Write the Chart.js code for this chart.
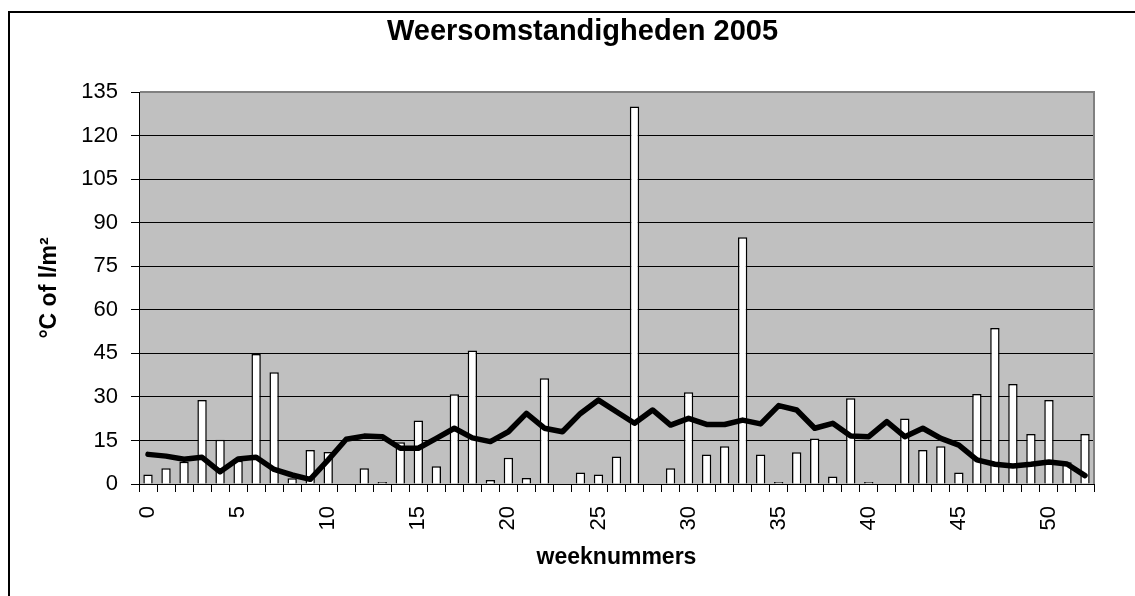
<!DOCTYPE html>
<html><head><meta charset="utf-8">
<script src="https://cdn.jsdelivr.net/npm/chart.js@4"></script>
<style>
html,body{margin:0;padding:0;background:#fff;overflow:hidden;width:1135px;height:596px;}
#frame{position:absolute;left:8px;top:11px;width:1300px;height:700px;border-left:2px solid #000;border-top:2px solid #000;}
#c{position:absolute;left:10px;top:13px;}
</style></head><body>
<div id="frame"></div>
<canvas id="c" width="1145" height="583"></canvas>
<script>
const weeks = ['0','1','2','3','4','5','6','7','8','9','10','11','12','13','14','15','16','17','18','19','20','21','22','23','24','25','26','27','28','29','30','31','32','33','34','35','36','37','38','39','40','41','42','43','44','45','46','47','48','49','50','51','52'];
const rain = [3.3,5.4,7.7,28.9,15.2,8,44.8,38.5,2,11.7,11,0,5.4,0.7,14.4,21.9,6.1,30.9,46,1.4,9,2.1,36.4,0,4,3.3,9.5,130,0,5.4,31.6,10.2,13,85,10.2,0.7,10.9,15.7,2.6,29.5,0.7,0,22.6,11.7,13,4,31,53.7,34.4,17.2,28.9,7.5,17.2];
const temp = [10.2,9.6,8.5,9.2,4.2,8.6,9.2,5.0,3.1,1.6,8.3,15.4,16.5,16.3,12.3,12.3,15.7,19.2,15.9,14.6,18.0,24.3,19.2,18.0,24.3,28.9,24.9,20.9,25.5,20.3,22.6,20.5,20.5,22.0,20.7,27.0,25.5,19.2,20.9,16.5,16.3,21.5,16.3,19.2,15.7,13.4,8.3,6.8,6.2,6.8,7.6,6.9,2.9];
const yMin = 0, yMax = 135, yStep = 15;
const titleText = 'Weersomstandigheden 2005';
const yTitle = '°C of l/m²';
const xTitle = 'weeknummers';

const FONT = '"Liberation Sans", Arial, sans-serif';

const plotBg = {
  id: 'plotBg',
  beforeDraw(chart) {
    const {ctx, chartArea: a} = chart;
    ctx.save();
    ctx.fillStyle = '#C0C0C0';
    ctx.fillRect(a.left, a.top, a.width, a.height);
    ctx.restore();
  },
  beforeDatasetsDraw(chart) {
    const {ctx, chartArea: a} = chart;
    ctx.save();
    ctx.strokeStyle = '#808080';
    ctx.lineWidth = 2;
    ctx.beginPath();
    ctx.moveTo(a.left + 1, a.top);
    ctx.lineTo(a.right, a.top);
    ctx.lineTo(a.right, a.bottom);
    ctx.stroke();
    ctx.restore();
  }
};

new Chart(document.getElementById('c'), {
  type: 'bar',
  data: {
    labels: weeks,
    datasets: [
      {
        type: 'line',
        label: 'temperatuur',
        data: temp,
        borderColor: '#000',
        borderWidth: 5.5,
        pointRadius: 0,
        tension: 0,
        borderJoinStyle: 'round',
        borderCapStyle: 'round',
        fill: false,
        order: 0
      },
      {
        type: 'bar',
        label: 'neerslag',
        data: rain,
        backgroundColor: '#fff',
        borderColor: '#000',
        borderWidth: 1.5,
        barPercentage: 0.52,
        categoryPercentage: 1,
        order: 1
      }
    ]
  },
  options: {
    responsive: false,
    animation: false,
    devicePixelRatio: 1,
    layout: { padding: { left: 0, right: 0, top: 0, bottom: 0 } },
    plugins: {
      legend: { display: false },
      tooltip: { enabled: false },
      title: {
        display: true,
        text: titleText,
        color: '#000',
        font: { family: FONT, size: 29, weight: 'bold' },
        padding: { top: 1.6, bottom: 42.6 }
      }
    },
    scales: {
      x: {
        offset: true,
        afterFit(s) { s.height = 112; },
        grid: { offset: true, drawOnChartArea: false, drawTicks: true, tickLength: 8, color: '#000', lineWidth: 1 },
        border: { display: true, color: '#000', width: 1 },
        ticks: {
          autoSkip: false,
          maxRotation: 90,
          minRotation: 90,
          padding: 14,
          color: '#000',
          font: { family: FONT, size: 22 },
          callback: function(v, i) { return i % 5 === 0 ? weeks[i] : ''; }
        },
        title: {
          display: true,
          text: xTitle,
          color: '#000',
          font: { family: FONT, size: 23, weight: 'bold' },
          padding: { top: 0, bottom: 25 }
        }
      },
      y: {
        min: yMin,
        max: yMax,
        afterFit(s) { s.width = 129; },
        grid: { color: '#000', lineWidth: 1, drawTicks: true, tickLength: 8 },
        border: { display: true, color: '#000', width: 1 },
        ticks: {
          stepSize: yStep,
          padding: 13,
          color: '#000',
          font: { family: FONT, size: 22 }
        },
        title: {
          display: true,
          text: yTitle,
          color: '#000',
          font: { family: FONT, size: 23, weight: 'bold' },
          padding: { top: 26, bottom: 0 }
        }
      },
      yRightSpace: {
        position: 'right',
        display: true,
        min: yMin,
        max: yMax,
        afterFit(s) { s.width = 61; },
        grid: { display: false, drawOnChartArea: false, drawTicks: false },
        border: { display: false },
        ticks: { display: false }
      }
    }
  },
  plugins: [plotBg]
});
</script>
</body></html>
